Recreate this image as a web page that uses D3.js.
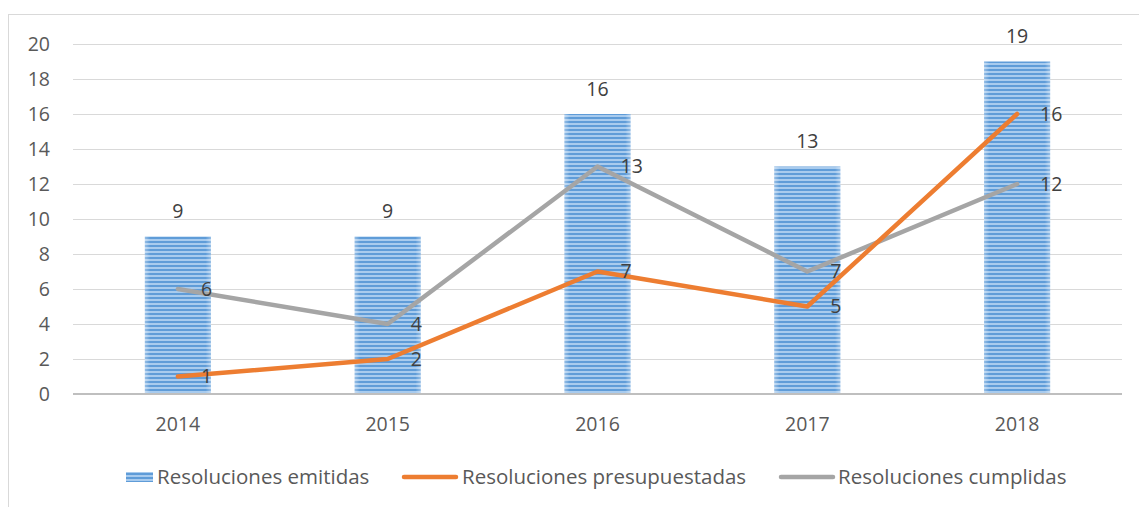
<!DOCTYPE html>
<html>
<head>
<meta charset="utf-8">
<script src="https://cdn.jsdelivr.net/npm/d3@7"></script>
<style>
  body { margin: 0; background: #fff; }
  text { font-family: "Open Sans", sans-serif; fill: #595959; }
</style>
</head>
<body>
<div id="chart"></div>
<script>
const years = ['2014', '2015', '2016', '2017', '2018'];
const emitidas = [9, 9, 16, 13, 19];
const presupuestadas = [1, 2, 7, 5, 16];
const cumplidas = [6, 4, 13, 7, 12];
const yTicks = [0, 2, 4, 6, 8, 10, 12, 14, 16, 18, 20];

const width = 1139, height = 507;
const margin = { top: 44, right: 17, bottom: 113, left: 73 };
const fs = '19.5px';

const svg = d3.select('#chart').append('svg')
  .attr('width', width)
  .attr('height', height);

// bar stripe pattern
const defs = svg.append('defs');
const pat = defs.append('pattern')
  .attr('id', 'stripes')
  .attr('patternUnits', 'userSpaceOnUse')
  .attr('width', 8).attr('height', 4);
pat.append('rect').attr('width', 8).attr('height', 4).attr('fill', '#a8cbee');
pat.append('rect').attr('y', 1).attr('width', 8).attr('height', 2).attr('fill', '#5f9cd8');

const edge = defs.append('linearGradient').attr('id', 'edge');
edge.append('stop').attr('offset', '0%').attr('stop-color', '#fff').attr('stop-opacity', 0.35);
edge.append('stop').attr('offset', '8%').attr('stop-color', '#fff').attr('stop-opacity', 0);
edge.append('stop').attr('offset', '92%').attr('stop-color', '#fff').attr('stop-opacity', 0);
edge.append('stop').attr('offset', '100%').attr('stop-color', '#fff').attr('stop-opacity', 0.35);

// outer frame
svg.append('rect')
  .attr('x', 8.5).attr('y', 14.5)
  .attr('width', 1200).attr('height', 600)
  .attr('fill', 'none')
  .attr('stroke', '#d9d9d9');

const x = d3.scaleBand()
  .domain(years)
  .range([margin.left, width - margin.right]);

const y = d3.scaleLinear()
  .domain([0, 20])
  .range([height - margin.bottom, margin.top]);

// gridlines
svg.append('g').selectAll('line')
  .data(yTicks.filter(d => d > 0))
  .enter().append('line')
  .attr('x1', margin.left).attr('x2', width - margin.right)
  .attr('y1', d => Math.round(y(d)) + 0.5).attr('y2', d => Math.round(y(d)) + 0.5)
  .attr('stroke', '#d9d9d9');

// y labels
svg.append('g').selectAll('text')
  .data(yTicks)
  .enter().append('text')
  .attr('x', margin.left - 23)
  .attr('y', d => y(d))
  .attr('dy', '0.35em')
  .attr('text-anchor', 'end')
  .style('font-size', fs)
  .text(d => d);

// bars
const barW = x.bandwidth() * 0.315;
const bars = svg.append('g');
bars.selectAll('rect.bar')
  .data(emitidas)
  .enter().append('rect')
  .attr('class', 'bar')
  .attr('x', (d, i) => x(years[i]) + x.bandwidth() / 2 - barW / 2)
  .attr('y', d => y(d))
  .attr('width', barW)
  .attr('height', d => y(0) - y(d))
  .attr('fill', 'url(#stripes)');
bars.selectAll('rect.edge')
  .data(emitidas)
  .enter().append('rect')
  .attr('class', 'edge')
  .attr('x', (d, i) => x(years[i]) + x.bandwidth() / 2 - barW / 2)
  .attr('y', d => y(d))
  .attr('width', barW)
  .attr('height', d => y(0) - y(d))
  .attr('fill', 'url(#edge)');

// baseline
svg.append('line')
  .attr('x1', margin.left).attr('x2', width - margin.right)
  .attr('y1', y(0)).attr('y2', y(0))
  .attr('stroke', '#bfbfbf')
  .attr('stroke-width', 2);

// x labels
svg.append('g').selectAll('text')
  .data(years)
  .enter().append('text')
  .attr('x', d => x(d) + x.bandwidth() / 2)
  .attr('y', y(0) + 30)
  .attr('dy', '0.35em')
  .attr('text-anchor', 'middle')
  .style('font-size', fs)
  .text(d => d);

// lines
const cx = i => x(years[i]) + x.bandwidth() / 2;
const line = d3.line().x((d, i) => cx(i)).y(d => y(d));

svg.append('path')
  .datum(cumplidas)
  .attr('d', line)
  .attr('fill', 'none')
  .attr('stroke', '#a5a5a5')
  .attr('stroke-width', 4.5)
  .attr('stroke-linecap', 'round')
  .attr('stroke-linejoin', 'round');

svg.append('path')
  .datum(presupuestadas)
  .attr('d', line)
  .attr('fill', 'none')
  .attr('stroke', '#ed7d31')
  .attr('stroke-width', 4.5)
  .attr('stroke-linecap', 'round')
  .attr('stroke-linejoin', 'round');

// data labels
svg.append('g').selectAll('text')
  .data(emitidas)
  .enter().append('text')
  .attr('x', (d, i) => cx(i))
  .attr('y', d => y(d) - 25)
  .attr('dy', '0.35em')
  .attr('text-anchor', 'middle')
  .style('font-size', fs)
  .style('fill', '#404040')
  .text(d => d);

[presupuestadas, cumplidas].forEach(series => {
  svg.append('g').selectAll('text')
    .data(series)
    .enter().append('text')
    .attr('x', (d, i) => cx(i) + 23)
    .attr('y', d => y(d))
    .attr('dy', '0.35em')
    .style('font-size', fs)
    .style('fill', '#404040')
    .text(d => d);
});

// legend
const legend = svg.append('g');
const ly = 477;
const lfs = '20.5px';
legend.append('rect')
  .attr('x', 126).attr('y', ly - 5)
  .attr('width', 27).attr('height', 10)
  .attr('fill', 'url(#stripes)');
legend.append('text').attr('x', 157).attr('y', ly).attr('dy', '0.35em')
  .style('font-size', lfs).text('Resoluciones emitidas');

legend.append('line')
  .attr('x1', 404).attr('x2', 456).attr('y1', ly).attr('y2', ly)
  .attr('stroke', '#ed7d31').attr('stroke-width', 4.5).attr('stroke-linecap', 'round');
legend.append('text').attr('x', 462).attr('y', ly).attr('dy', '0.35em')
  .style('font-size', lfs).text('Resoluciones presupuestadas');

legend.append('line')
  .attr('x1', 781).attr('x2', 833).attr('y1', ly).attr('y2', ly)
  .attr('stroke', '#a5a5a5').attr('stroke-width', 4.5).attr('stroke-linecap', 'round');
legend.append('text').attr('x', 838).attr('y', ly).attr('dy', '0.35em')
  .style('font-size', lfs).text('Resoluciones cumplidas');
</script>
</body>
</html>
